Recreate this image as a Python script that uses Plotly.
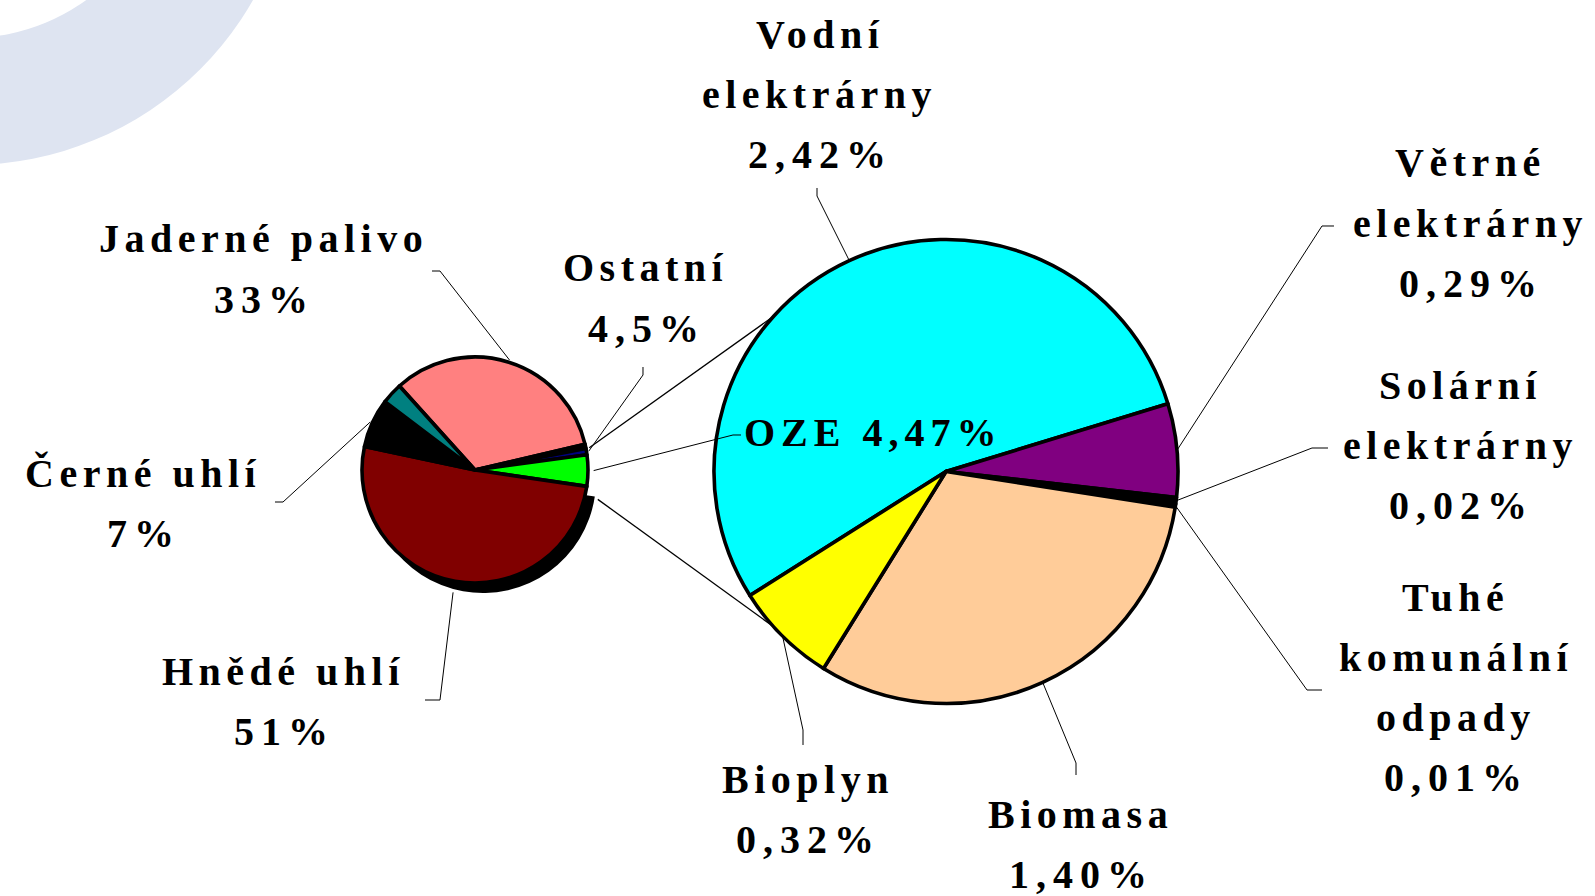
import math
import plotly.graph_objects as go

W, H = 1595, 896

# ---------------- data ----------------
# main pie (energy mix), clockwise order
main_names = ["Jaderné palivo", "Ostatní (a)", "Ostatní", "OZE", "Hnědé uhlí", "Černé uhlí", "Ostatní (b)"]
main_values = [33, 0.6, 0.9, 4.47, 51, 7, 3.0]
main_colors = ["#FF8080", "#000000", "#000080", "#00FF00", "#800000", "#000000", "#008080"]

# secondary pie (OZE breakdown), clockwise order
sub_names = ["Vodní elektrárny", "Větrné elektrárny", "Solární elektrárny",
             "Tuhé komunální odpady", "Biomasa", "Bioplyn"]
sub_values = [2.42, 0.29, 0.02, 0.01, 1.40, 0.32]
sub_colors = ["#00FFFF", "#800080", "#000000", "#008080", "#FFCC99", "#FFFF00"]

# label texts
main_label_lines = {0: ["Jaderné palivo", "33%"], 2: ["Ostatní", "4,5%"],
                    5: ["Černé uhlí", "7%"], 4: ["Hnědé uhlí", "51%"]}
oze_label = "OZE 4,47%"
sub_label_lines = {0: ["Vodní", "elektrárny", "2,42%"],
                   1: ["Větrné", "elektrárny", "0,29%"],
                   2: ["Solární", "elektrárny", "0,02%"],
                   3: ["Tuhé", "komunální", "odpady", "0,01%"],
                   4: ["Biomasa", "1,40%"],
                   5: ["Bioplyn", "0,32%"]}

# ---------------- layout geometry (pixels) ----------------
main_c, main_r, main_rot = (475, 470), 113, -42
sub_c, sub_r, sub_rot = (946, 471.5), 232, -122.3
shadow_off = (8, 10)
EDGE_W = 3.6


def px2paper(x, y):
    return x / W, 1 - y / H


def domain(c, r, off=(0, 0)):
    cx, cy = c[0] + off[0], c[1] + off[1]
    return dict(x=[(cx - r) / W, (cx + r) / W], y=[1 - (cy + r) / H, 1 - (cy - r) / H])


def slice_angle(values, rot, idx, frac):
    tot = sum(values)
    return rot + 360 * (sum(values[:idx]) + values[idx] * frac) / tot


def pt_at(c, r, ang, rr=1.0):
    a = math.radians(ang)
    return (c[0] + rr * r * math.sin(a), c[1] - rr * r * math.cos(a))


fig = go.Figure()

# shadow of the brown-coal slice
shadow_colors = ["rgba(0,0,0,0)"] * len(main_values)
shadow_colors[4] = "#000000"
fig.add_trace(go.Pie(values=main_values, labels=main_names, sort=False, direction="clockwise",
                     rotation=main_rot, domain=domain(main_c, main_r, shadow_off),
                     marker=dict(colors=shadow_colors, line=dict(width=0)),
                     textinfo="none", hoverinfo="skip", showlegend=False))

fig.add_trace(go.Pie(values=main_values, labels=main_names, sort=False, direction="clockwise",
                     rotation=main_rot, domain=domain(main_c, main_r),
                     marker=dict(colors=main_colors, line=dict(color="black", width=EDGE_W)),
                     textinfo="none", showlegend=False))

fig.add_trace(go.Pie(values=sub_values, labels=sub_names, sort=False, direction="clockwise",
                     rotation=sub_rot, domain=domain(sub_c, sub_r),
                     marker=dict(colors=sub_colors, line=dict(color="black", width=EDGE_W)),
                     textinfo="none", showlegend=False))

FONT = dict(family='"Liberation Serif", "Times New Roman", Tinos, serif', size=40, color="black")
annotations = []
shapes = []


def add_text(lines, x, y, step=60, spacing=5.5):
    for i, t in enumerate(lines):
        sp = spacing + 1.5 if "%" in t else spacing
        px, py = px2paper(x + sp / 2, y + i * step)
        annotations.append(dict(text=f'<b><span style="letter-spacing:{sp}px">{t}</span></b>',
                                x=px, y=py, xref="paper", yref="paper", showarrow=False,
                                xanchor="center", yanchor="middle", font=FONT))


def add_path(points, width=1.0):
    p = [px2paper(*q) for q in points]
    d = "M " + " L ".join(f"{a:.5f},{b:.5f}" for a, b in p)
    shapes.append(dict(type="path", path=d, xref="paper", yref="paper",
                       line=dict(color="black", width=width)))


# label anchors (center of first line) and leader elbows
main_anchor = {0: (261, 239), 2: (643, 268), 5: (140, 473), 4: (281, 671)}
main_elbow = {0: [(432, 271), (440, 271)], 2: [(643, 367), (643, 375)],
              5: [(275, 502), (283, 502)], 4: [(425, 700), (440, 700)]}
sub_anchor = {0: (817, 34), 1: (1468, 163), 2: (1458, 385), 3: (1453, 597),
              4: (1078, 814), 5: (805, 779)}
sub_elbow = {0: [(817, 188), (817, 196)], 1: [(1334, 226), (1322, 226)],
             2: [(1328, 448), (1312, 448)], 3: [(1322, 690), (1307, 690)],
             4: [(1076, 775), (1076, 763)], 5: [(803, 745), (803, 730)]}

for i, lines in main_label_lines.items():
    add_text(lines, *main_anchor[i])
    rr = 1.1 if i == 4 else 1.02
    end = pt_at(main_c, main_r, slice_angle(main_values, main_rot, i, 0.5), rr)
    add_path(main_elbow[i] + [end])

for i, lines in sub_label_lines.items():
    add_text(lines, *sub_anchor[i])
    end = pt_at(sub_c, sub_r, slice_angle(sub_values, sub_rot, i, 0.5), 1.0)
    add_path(sub_elbow[i] + [end])

# OZE label inside the secondary pie, leader from the green slice
add_text([oze_label], 870, 432, spacing=4.5)
oze_end = pt_at(main_c, main_r, slice_angle(main_values, main_rot, 3, 0.5), 1.05)
add_path([(741, 435), (733, 435), oze_end])

# series lines between the pies
a1 = pt_at(main_c, main_r, slice_angle(main_values, main_rot, 2, 0.0), 1.03)
b1 = pt_at(sub_c, sub_r, 312, 1.0)
a2 = pt_at(main_c, main_r, slice_angle(main_values, main_rot, 3, 1.0), 1.0)
a2 = (a2[0] + shadow_off[0] + 3, a2[1] + shadow_off[1] + 3)
b2 = pt_at(sub_c, sub_r, 228, 1.0)
add_path([a1, b1], 1.3)
add_path([a2, b2], 1.3)

# watermark ring in the top-left corner (outer disc, then white inner disc)
ring_c, ring_R, ring_r = (-31, -162), 327, 200
ring_shapes = []
for rad, col in [(ring_R, "#DEE4F1"), (ring_r, "#FFFFFF")]:
    x0, y1 = px2paper(ring_c[0] - rad, ring_c[1] - rad)
    x1, y0 = px2paper(ring_c[0] + rad, ring_c[1] + rad)
    ring_shapes.append(dict(type="circle", xref="paper", yref="paper", x0=x0, x1=x1, y0=y0, y1=y1,
                            fillcolor=col, line=dict(width=0), layer="below"))
shapes = ring_shapes + shapes

fig.update_layout(width=W, height=H, margin=dict(l=0, r=0, t=0, b=0),
                  paper_bgcolor="white", plot_bgcolor="white",
                  annotations=annotations, shapes=shapes, showlegend=False)

fig.write_html("out.html", config={"displayModeBar": False},
               post_script="document.body.style.margin='0';document.body.style.padding='0';")
